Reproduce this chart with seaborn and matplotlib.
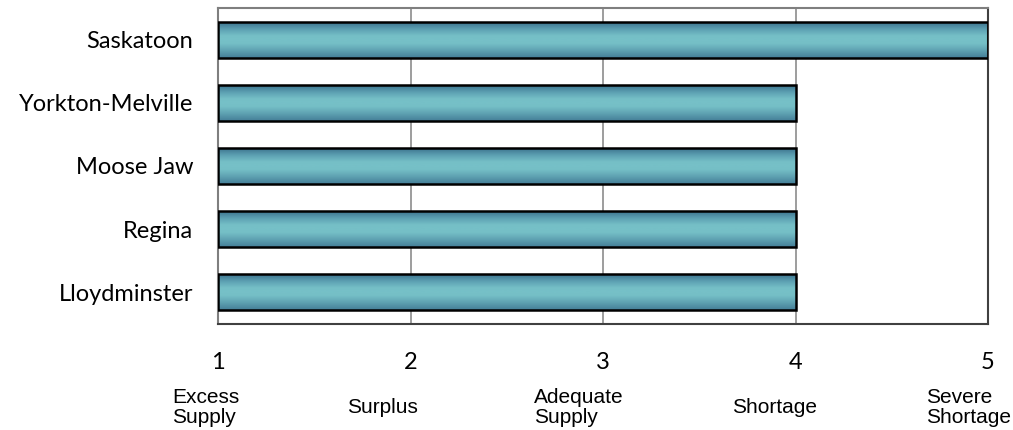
import numpy as np
import pandas as pd
import matplotlib
matplotlib.use("Agg")
import matplotlib.pyplot as plt
from matplotlib.colors import LinearSegmentedColormap
import seaborn as sns

# Data
cities = ["Saskatoon", "Yorkton-Melville", "Moose Jaw", "Regina", "Lloydminster"]
ratings = [5, 4, 4, 4, 4]
scale_ticks = [1, 2, 3, 4, 5]
scale_names = ["Excess\nSupply", "Surplus", "Adequate\nSupply", "Shortage", "Severe\nShortage"]
name_pos = [0.76, 1.67, 2.64, 3.67, 4.68]

df = pd.DataFrame({"city": cities, "rating": ratings})

sns.set_style("white")
fig = plt.figure(figsize=(10.13, 4.30), dpi=100)
ax = fig.add_axes([218 / 1013, 1 - 324 / 430, 770 / 1013, 316 / 430])

# bars start at 1 (bottom of scale)
sns.barplot(data=df, x="rating", y="city", orient="h", width=0.57,
            color="#6fb8c2", ax=ax, zorder=3)

grad_cmap = LinearSegmentedColormap.from_list(
    "teal", ["#386c88", "#5a9db0", "#76c0c7", "#76c0c7", "#5fa2b2", "#457f98"])
grad = np.linspace(0, 1, 64).reshape(-1, 1)

for p in ax.patches:
    # shift bar to begin at 1
    w = p.get_width()
    p.set_x(1)
    p.set_width(w - 1)
    x0, y0, h = p.get_x(), p.get_y(), p.get_height()
    im = ax.imshow(grad, extent=[x0, x0 + w - 1, y0 + h, y0], aspect="auto",
                   cmap=grad_cmap, zorder=2, interpolation="bicubic")
    im.set_clip_path(p)
    p.set_facecolor("none")
    p.set_edgecolor("black")
    p.set_linewidth(1.8)

ax.set_xlim(1, 5)
ax.set_ylim(len(cities) - 0.5, -0.5)
ax.set_xticks(scale_ticks)
ax.set_xticklabels([str(t) for t in scale_ticks])
ax.set_xlabel("")
ax.set_ylabel("")

ax.set_axisbelow(True)
ax.grid(axis="x", color="#8c8c8c", linewidth=1.2, zorder=0)
ax.grid(axis="y", visible=False)
for s in ax.spines.values():
    s.set_visible(True)
    s.set_color("#7f7f7f")
    s.set_linewidth(1.5)
ax.spines["bottom"].set_color("#404040")
ax.spines["right"].set_color("#404040")

ax.tick_params(axis="x", length=0, pad=20, labelsize=17)
ax.tick_params(axis="y", length=0, pad=18, labelsize=17)
for lab in ax.get_xticklabels() + ax.get_yticklabels():
    lab.set_fontfamily("Lato")
    lab.set_color("black")

trans = ax.get_xaxis_transform()
for xp, name in zip(name_pos, scale_names):
    ax.text(xp, -0.264, name, transform=trans, ha="left", va="center",
            multialignment="left", fontsize=15, family="Liberation Sans",
            color="black", linespacing=1.12, clip_on=False)

fig.savefig("out.png", dpi=100)
